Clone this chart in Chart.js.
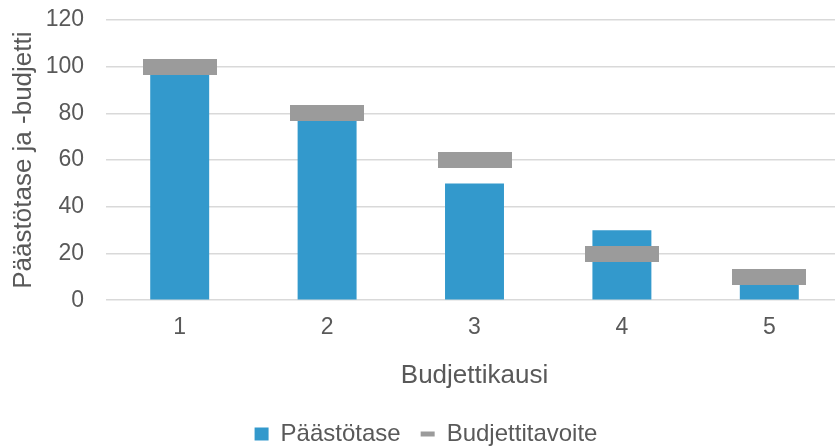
<!DOCTYPE html>
<html>
<head>
<meta charset="utf-8">
<script src="https://cdn.jsdelivr.net/npm/chart.js@4/dist/chart.umd.min.js"></script>
<style>
html,body{margin:0;padding:0;background:#fff;overflow:hidden;}
#wrap{width:852px;height:446px;position:relative;}
</style>
</head>
<body>
<div id="wrap"><canvas id="c" width="852" height="446"></canvas></div>
<script>
const categories = ['1', '2', '3', '4', '5'];
const balanceValues = [100, 80, 50, 30, 8];   // Päästötase
const targetValues = [100, 80, 60, 20, 10];   // Budjettitavoite
const yTicks = [0, 20, 40, 60, 80, 100, 120];

const TEXT = '#595959';
const FONT = "'Liberation Sans', Arial, sans-serif";

function markerImage(w, h, color) {
  const cv = document.createElement('canvas');
  cv.width = w; cv.height = h;
  const g = cv.getContext('2d');
  g.fillStyle = color;
  g.fillRect(0, 0, w, h);
  return cv;
}
const marker = markerImage(74, 16, '#9B9B9B');

new Chart(document.getElementById('c'), {
  data: {
    labels: categories,
    datasets: [
      {
        type: 'line',
        label: 'Budjettitavoite',
        data: targetValues,
        showLine: false,
        pointStyle: marker,
        pointRadius: 8,
        pointHoverRadius: 8,
        borderColor: '#9B9B9B',
        backgroundColor: '#9B9B9B',
        order: 0
      },
      {
        type: 'bar',
        label: 'Päästötase',
        data: balanceValues,
        backgroundColor: '#3399CC',
        borderWidth: 0,
        barPercentage: 0.4,
        categoryPercentage: 1.0,
        order: 1
      }
    ]
  },
  options: {
    responsive: false,
    animation: false,
    events: [],
    layout: { padding: { left: 0, right: 0, top: 0, bottom: -10 } },
    plugins: {
      tooltip: { enabled: false },
      legend: {
        position: 'bottom',
        labels: {
          color: TEXT,
          font: { family: FONT, size: 24 },
          usePointStyle: true,
          boxWidth: 13,
          boxHeight: 13,
          pointStyleWidth: 14,
          padding: 20,
          generateLabels(chart) {
            return [
              { text: 'Päästötase', fillStyle: '#3399CC', strokeStyle: '#3399CC', lineWidth: 0, pointStyle: 'rect', datasetIndex: 1, fontColor: TEXT },
              { text: 'Budjettitavoite', fillStyle: '#9B9B9B', strokeStyle: '#9B9B9B', lineWidth: 5, pointStyle: 'line', datasetIndex: 0, fontColor: TEXT }
            ];
          }
        }
      }
    },
    scales: {
      x: {
        grid: { display: false },
        border: { display: false },
        ticks: { color: TEXT, font: { family: FONT, size: 23 }, padding: 6 },
        title: { display: true, text: 'Budjettikausi', color: TEXT, font: { family: FONT, size: 26 }, padding: { top: 12, bottom: 11 } }
      },
      y: {
        min: 0, max: 120,
        afterBuildTicks(scale) { scale.ticks = yTicks.map(v => ({ value: v })); },
        grid: { color: '#D9D9D9', lineWidth: 1.5, drawTicks: false },
        border: { display: false },
        ticks: { color: TEXT, font: { family: FONT, size: 23 }, padding: 22 },
        title: { display: true, text: 'Päästötase ja -budjetti', color: TEXT, font: { family: FONT, size: 26 }, padding: { top: 8, bottom: 4 } },
        afterFit(scale) { scale.width = 106; scale.paddingTop = 20; scale.paddingBottom = 0; }
      }
    }
  }
});
</script>
</body>
</html>
